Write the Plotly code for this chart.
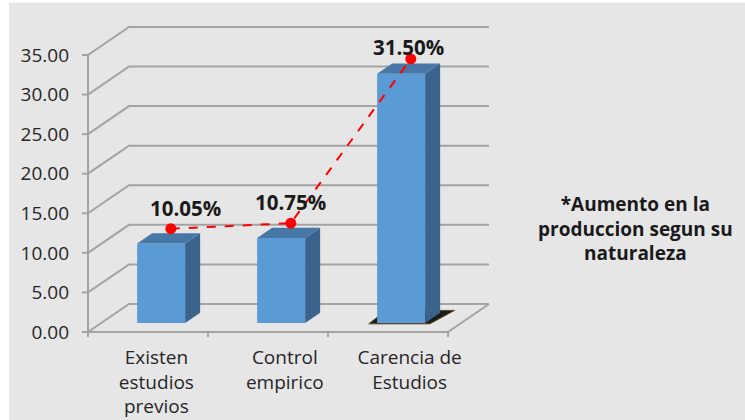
import plotly.graph_objects as go

# --- data ---------------------------------------------------------------
categories = ["Existen<br>estudios<br>previos", "Control<br>empirico", "Carencia de<br>Estudios"]
values = [10.05, 10.75, 31.50]
value_labels = ["10.05%", "10.75%", "31.50%"]
y_ticks = [0, 5, 10, 15, 20, 25, 30, 35]
y_tick_labels = ["0.00", "5.00", "10.00", "15.00", "20.00", "25.00", "30.00", "35.00"]
note = "*Aumento en la<br>produccion segun su<br>naturaleza"

# --- pseudo-3D geometry (data units) ----------------------------------------
DX, DY = 0.342, 3.54          # depth vector of the floor / walls
F0, F1 = 0.32, 0.686          # front / back depth fraction of the bars
BAR_W = 0.4
n = len(values)
label_pos_shift = [0.07, 0.14, 0.18]   # perspective drift of the category labels

TXT = "#262626"
GRID = "#a3a3a3"
FRONT, TOP, SIDE = "#5b9bd5", "#4677a6", "#3a648c"
FONT = "Open Sans"

fig = go.Figure()

# front faces
fig.add_trace(go.Bar(
    x=[i + 0.5 + F0 * DX for i in range(n)],
    y=values,
    base=[F0 * DY] * n,
    width=BAR_W,
    marker=dict(color=FRONT, line=dict(width=0)),
    hoverinfo="skip",
    showlegend=False,
))

ddx, ddy = (F1 - F0) * DX, (F1 - F0) * DY
for i, v in enumerate(values):
    xl = i + 0.5 - BAR_W / 2 + F0 * DX
    xr = xl + BAR_W
    yb = F0 * DY
    yt = yb + v
    # side face
    fig.add_trace(go.Scatter(
        x=[xr, xr, xr + ddx, xr + ddx, xr],
        y=[yb, yt, yt + ddy, yb + ddy, yb],
        fill="toself", fillcolor=SIDE, mode="lines",
        line=dict(width=0, color=SIDE), hoverinfo="skip", showlegend=False,
    ))
    # top face
    fig.add_trace(go.Scatter(
        x=[xl, xr, xr + ddx, xl + ddx, xl],
        y=[yt, yt, yt + ddy, yt + ddy, yt],
        fill="toself", fillcolor=TOP, mode="lines",
        line=dict(width=0, color=TOP), hoverinfo="skip", showlegend=False,
    ))

# dashed trend line with markers
line_x = [i + 0.5 + 0.19 for i in range(n)]
line_y = [v + 3.0 for v in values]
fig.add_trace(go.Scatter(
    x=line_x, y=line_y, mode="lines+markers",
    line=dict(color="#ff0000", width=2, dash="dash"),
    marker=dict(color="#ff0000", size=11),
    hoverinfo="skip", showlegend=False,
))

# --- shapes: background, walls, floor, axes ---------------------------------
shapes = [dict(type="rect", xref="paper", yref="paper",
               x0=-0.1595, x1=1.6, y0=-0.26, y1=1.065,
               fillcolor="#e6e6e6", line=dict(width=0), layer="below")]
for t in y_ticks:
    shapes.append(dict(type="path", xref="x", yref="y", layer="below",
                       path=f"M 0 {t} L {DX} {t + DY} L {n + DX} {t + DY}",
                       line=dict(color=GRID, width=2)))
    shapes.append(dict(type="line", xref="x", yref="y", layer="below",
                       x0=0, x1=-0.05, y0=t, y1=t, line=dict(color=GRID, width=2)))
# floor right edge and front axis lines
shapes.append(dict(type="line", xref="x", yref="y", layer="below",
                   x0=n, y0=0, x1=n + DX, y1=DY, line=dict(color=GRID, width=2)))
shapes.append(dict(type="line", xref="x", yref="y", layer="below",
                   x0=0, y0=0, x1=n, y1=0, line=dict(color=GRID, width=2)))
shapes.append(dict(type="line", xref="x", yref="y", layer="below",
                   x0=0, y0=0, x1=0, y1=y_ticks[-1], line=dict(color=GRID, width=2)))
for i in range(n + 1):
    shapes.append(dict(type="line", xref="x", yref="y", layer="below",
                       x0=i, x1=i, y0=0, y1=-0.63, line=dict(color=GRID, width=2)))
# soft shadow under the tallest bar
k = values.index(max(values))
sx = k + 0.5 - BAR_W / 2 + F0 * DX
shapes.append(dict(type="path", xref="x", yref="y", layer="below",
                   path=(f"M {sx - 0.07} {F0 * DY - 0.1} L {sx + BAR_W + 0.04} {F0 * DY - 0.1} "
                         f"L {sx + BAR_W + ddx + 0.12} {F1 * DY + 0.3} L {sx + ddx - 0.05} {F1 * DY + 0.3} Z"),
                   fillcolor="#1c1c1c", line=dict(color="#5a4a20", width=1)))

# --- value labels ------------------------------------------------------------
label_xshift = [15, 0, -2]
label_yshift = [21, 21, 12]
annotations = []
for i in range(n):
    annotations.append(dict(
        x=line_x[i], y=line_y[i], xref="x", yref="y", text=f"<b>{value_labels[i]}</b>",
        showarrow=False, xshift=label_xshift[i], yshift=label_yshift[i],
        font=dict(family=FONT, size=20.5, color="#1a1a1a"),
    ))
annotations.append(dict(
    x=1.333, y=0.349, xref="paper", yref="paper", text=f"<b>{note}</b>",
    showarrow=False, align="center", xanchor="center", yanchor="middle",
    font=dict(family=FONT, size=19, color="#1a1a1a"),
))

fig.update_layout(
    width=745, height=420, autosize=False,
    margin=dict(l=76, r=249, t=23, b=82, pad=0),
    paper_bgcolor="#ffffff", plot_bgcolor="rgba(0,0,0,0)",
    barmode="overlay", showlegend=False,
    shapes=shapes, annotations=annotations,
    xaxis=dict(range=[-0.1, 3.4], showgrid=False, zeroline=False, showline=False,
               automargin=False,
               tickmode="array",
               tickvals=[i + 0.5 + label_pos_shift[i] for i in range(n)],
               ticktext=categories,
               ticks="", ticklabelstandoff=6,
               tickfont=dict(family=FONT, size=19, color=TXT), fixedrange=True),
    yaxis=dict(range=[-0.758, 39.04], showgrid=False, zeroline=False, showline=False,
               automargin=False,
               tickmode="array", tickvals=y_ticks, ticktext=y_tick_labels,
               ticks="", ticklabelstandoff=6,
               tickfont=dict(family=FONT, size=19, color=TXT), fixedrange=True),
)

fig.write_html("out.html")
